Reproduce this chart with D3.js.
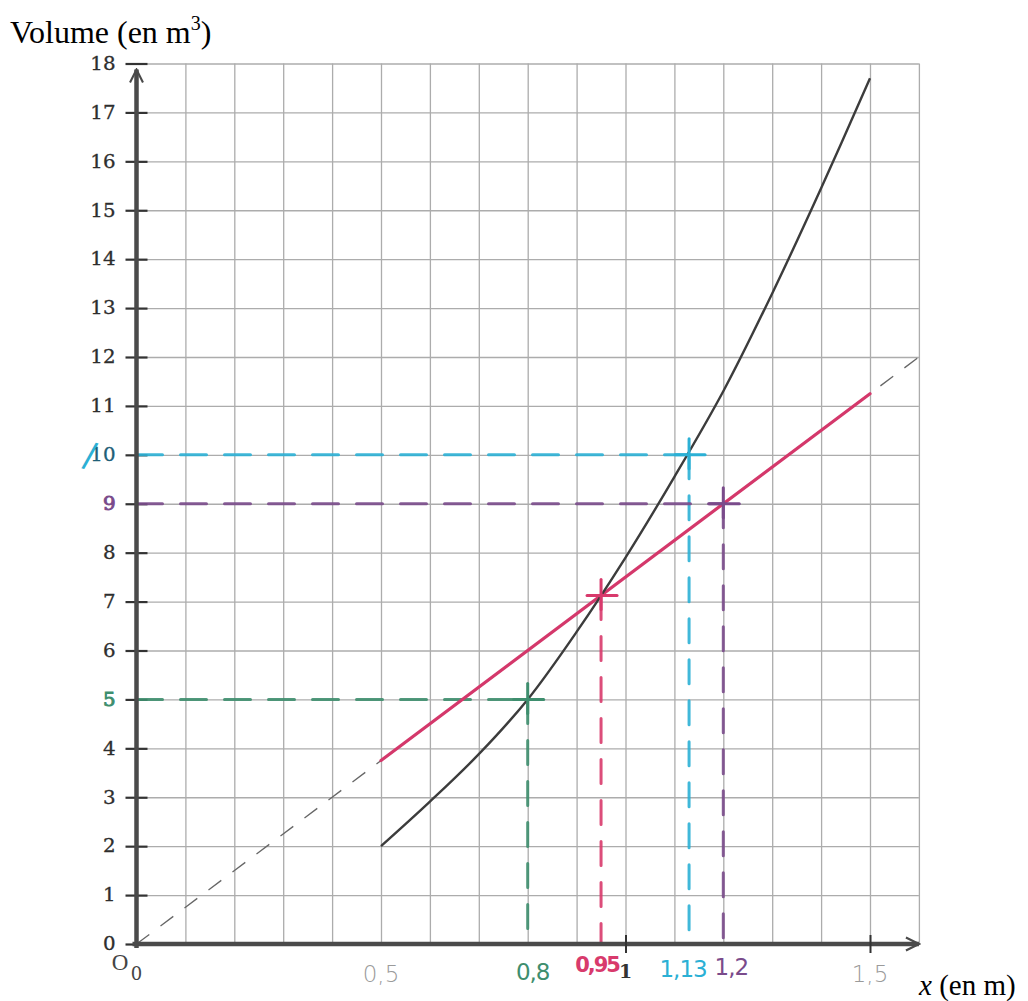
<!DOCTYPE html>
<html>
<head>
<meta charset="utf-8">
<script src="https://cdn.jsdelivr.net/npm/d3@7"></script>
<style>
  body { margin: 0; background: #fff; }
  svg { display: block; }
</style>
</head>
<body>
<svg id="chart" width="1028" height="1001"></svg>
<script>
// ---- values ----
const yTicks = [0, 1, 2, 3, 4, 5, 6, 7, 8, 9, 10, 11, 12, 13, 14, 15, 16, 17, 18];
const xGridValues = [0.1, 0.2, 0.3, 0.4, 0.5, 0.6, 0.7, 0.8, 0.9, 1.0, 1.1, 1.2, 1.3, 1.4, 1.5, 1.6];
const xPrintedTicks = [1, 1.5];
const xPrintedLabels = ["1"];

// volume curve (black)
const curveX = [0.5, 0.6, 0.7, 0.8, 0.9, 1.0, 1.1, 1.2, 1.3, 1.4, 1.5];
const curveV = [2.0, 2.91, 3.88, 5.0, 6.38, 7.9, 9.55, 11.3, 13.3, 15.45, 17.7];

// linear volume (red) and its dashed extension
const rateX = [0.5, 1.5];
const rateV = [3.75, 11.25];
const guideX = [0, 1.6];
const guideV = [0, 12];

// hand-drawn readings
const readX = [0.8, 0.95, 1.13, 1.2];
const readV = [5, 7.125, 10, 9];
const readLabels = ["0,8", "0,95", "1,13", "1,2"];
const readLevelLine = [true, false, true, true];

// pencil marks under the x axis
const markX = [0.5, 1.5];
const markLabels = ["0,5", "1,5"];

// ---- drawing ----
const colors = ["#3e8e6e", "#d83a6c", "#2bb0d5", "#7a4b8b"];
const svg = d3.select("#chart");
const x = d3.scaleLinear().domain([0, 1.6]).range([136.5, 918.9]);
const y = d3.scaleLinear().domain([0, 18]).range([944, 63.5]);

const defs = svg.append("defs");
defs.append("marker").attr("id", "arrowHead")
  .attr("viewBox", "0 0 10 10").attr("refX", 9).attr("refY", 5)
  .attr("markerWidth", 3.6).attr("markerHeight", 3.6).attr("orient", "auto")
  .attr("markerUnits", "strokeWidth")
  .append("path").attr("d", "M1,1 L9,5 L1,9").attr("fill", "none")
  .attr("stroke", "#4a4a4a").attr("stroke-width", 1.3);

// grid
const gridColor = "#acacac";
svg.append("g")
  .attr("transform", `translate(0,${y(0)})`)
  .call(d3.axisBottom(x).tickValues(xGridValues).tickSize(-(y(0) - y(18))).tickFormat(""))
  .call(g => g.select(".domain").remove())
  .call(g => g.selectAll("line").attr("stroke", gridColor).attr("stroke-width", 1.3));
svg.append("g")
  .attr("transform", `translate(${x(0)},0)`)
  .call(d3.axisLeft(y).tickValues(yTicks.slice(1)).tickSize(-(x(1.6) - x(0))).tickFormat(""))
  .call(g => g.select(".domain").remove())
  .call(g => g.selectAll("line").attr("stroke", gridColor).attr("stroke-width", 1.3));

// y axis ticks and labels
const yAxis = svg.append("g")
  .attr("transform", `translate(${x(0) + 11},0)`)
  .call(d3.axisLeft(y).tickValues(yTicks).tickSize(22).tickPadding(0))
  .call(g => g.select(".domain").remove());
yAxis.selectAll("line").attr("stroke", "#333").attr("stroke-width", 2.2);
yAxis.selectAll("text")
  .attr("x", 0)
  .attr("transform", "translate(-32,0) scale(1.1,1)")
  .attr("text-anchor", "end")
  .attr("font-family", "'DejaVu Serif', serif")
  .attr("font-size", 18)
  .attr("fill", d => d === 5 ? colors[0] : d === 9 ? colors[3] : d === 10 ? "#1f5f78" : "#2e2e2e")
  .attr("stroke", d => d === 5 ? colors[0] : d === 9 ? colors[3] : d === 10 ? "#1f5f78" : "#2e2e2e")
  .attr("stroke-width", d => (d === 5 || d === 9) ? 0.9 : 0.3);

// hand-drawn stroke over the "10" label
svg.append("text")
  .attr("x", 90).attr("y", y(10) + 12)
  .attr("transform", `rotate(12,90,${y(10)})`)
  .attr("font-family", "'DejaVu Sans', sans-serif")
  .attr("font-size", 34).attr("fill", colors[2])
  .attr("text-anchor", "middle")
  .text("/");

// dashed linear guide
const line = d3.line().x(d => x(d[0])).y(d => y(d[1]));
svg.append("path")
  .attr("d", line(d3.zip(guideX, guideV)))
  .attr("fill", "none").attr("stroke", "#666").attr("stroke-width", 1.3)
  .attr("stroke-dasharray", "16 14");

// reading guides: horizontal levels and vertical drops
readX.forEach((rx, i) => {
  const c = colors[i];
  if (readLevelLine[i]) {
    svg.append("path")
      .attr("d", line([[0, readV[i]], [rx, readV[i]]]))
      .attr("fill", "none").attr("stroke", c).attr("stroke-width", 3)
      .attr("stroke-linecap", "round").attr("stroke-dasharray", "26 18").attr("opacity", 0.9);
  }
  svg.append("path")
    .attr("d", line([[rx, readV[i]], [rx, 0]]))
    .attr("fill", "none").attr("stroke", c).attr("stroke-width", 3)
    .attr("stroke-linecap", "round").attr("stroke-dasharray", "24 17").attr("opacity", 0.9);
});

// red linear volume
svg.append("path")
  .attr("d", line(d3.zip(rateX, rateV)))
  .attr("fill", "none").attr("stroke", "#d4386b").attr("stroke-width", 3.2)
  .attr("stroke-linecap", "round");

// black volume curve
svg.append("path")
  .attr("d", d3.line().x(d => x(d[0])).y(d => y(d[1])).curve(d3.curveCatmullRom)(d3.zip(curveX, curveV)))
  .attr("fill", "none").attr("stroke", "#3c3c3c").attr("stroke-width", 2.4);

// crosses at each reading point
readX.forEach((rx, i) => {
  const cx = x(rx), cy = y(readV[i]), c = colors[i];
  const g = svg.append("g").attr("stroke", c).attr("stroke-width", 3).attr("stroke-linecap", "round");
  g.append("line").attr("x1", cx - 14).attr("x2", cx + 16).attr("y1", cy).attr("y2", cy);
  g.append("line").attr("x1", cx).attr("x2", cx).attr("y1", cy - 16).attr("y2", cy + 14);
});

// axes
svg.append("line")
  .attr("x1", x(0) - 4).attr("x2", x(1.6)).attr("y1", y(0)).attr("y2", y(0))
  .attr("stroke", "#4a4a4a").attr("stroke-width", 4.5)
  .attr("marker-end", "url(#arrowHead)");
svg.append("line")
  .attr("x1", x(0)).attr("x2", x(0)).attr("y1", y(0) + 4).attr("y2", y(18) + 6)
  .attr("stroke", "#4a4a4a").attr("stroke-width", 4.5)
  .attr("marker-end", "url(#arrowHead)");

// printed x ticks
const xAxis = svg.append("g")
  .attr("transform", `translate(0,${y(0) - 9})`)
  .call(d3.axisBottom(x).tickValues(xPrintedTicks).tickSize(18).tickFormat(""))
  .call(g => g.select(".domain").remove());
xAxis.selectAll("line").attr("stroke", "#333").attr("stroke-width", 2);
svg.append("g").selectAll("text").data(xPrintedLabels).join("text")
  .attr("x", d => x(+d)).attr("y", 978)
  .attr("text-anchor", "middle")
  .attr("font-family", "'DejaVu Serif', serif").attr("font-size", 19).attr("font-weight", "bold")
  .attr("fill", "#333")
  .text(d => d);

// origin
svg.append("text").attr("x", 120).attr("y", 970).attr("text-anchor", "middle")
  .attr("font-family", "'Liberation Serif', serif").attr("font-size", 23).attr("fill", "#444").text("O");
svg.append("text").attr("x", x(0)).attr("y", 980).attr("text-anchor", "middle")
  .attr("font-family", "'DejaVu Serif', serif").attr("font-size", 18).attr("fill", "#444").text("0");

// handwritten labels under the axis
const hand = "'DejaVu Sans', sans-serif";
svg.append("g").selectAll("text").data(markLabels).join("text")
  .attr("x", (d, i) => x(markX[i]))
  .attr("y", 982)
  .attr("text-anchor", "middle")
  .attr("font-family", hand).attr("font-size", 23).attr("font-weight", 200)
  .attr("fill", "#9a9a9a")
  .text(d => d);
const readLabelY = [980, 972, 977, 975];
const readLabelDx = [5, -4, -6, 8];
svg.append("g").selectAll("text").data(readLabels).join("text")
  .attr("x", (d, i) => x(readX[i]) + readLabelDx[i])
  .attr("y", (d, i) => readLabelY[i])
  .attr("text-anchor", "middle")
  .attr("font-family", hand).attr("font-size", (d, i) => i === 1 ? 21 : 23)
  .attr("font-weight", (d, i) => i === 1 ? "bold" : "normal")
  .attr("letter-spacing", (d, i) => i === 1 ? -2 : -1)
  .attr("fill", (d, i) => colors[i])
  .text(d => d);

// axis titles
const title = svg.append("text").attr("x", 10).attr("y", 43)
  .attr("font-family", "'Liberation Serif', 'Times New Roman', serif").attr("font-size", 32).attr("fill", "#000");
title.append("tspan").text("Volume (en m");
title.append("tspan").attr("font-size", 20).attr("dy", -13).text("3");
title.append("tspan").attr("dy", 13).text(")");

const xt = svg.append("text").attr("x", 919).attr("y", 995)
  .attr("font-family", "'Liberation Serif', 'Times New Roman', serif").attr("font-size", 29).attr("fill", "#000");
xt.append("tspan").attr("font-style", "italic").text("x");
xt.append("tspan").text(" (en m)");
</script>
</body>
</html>
